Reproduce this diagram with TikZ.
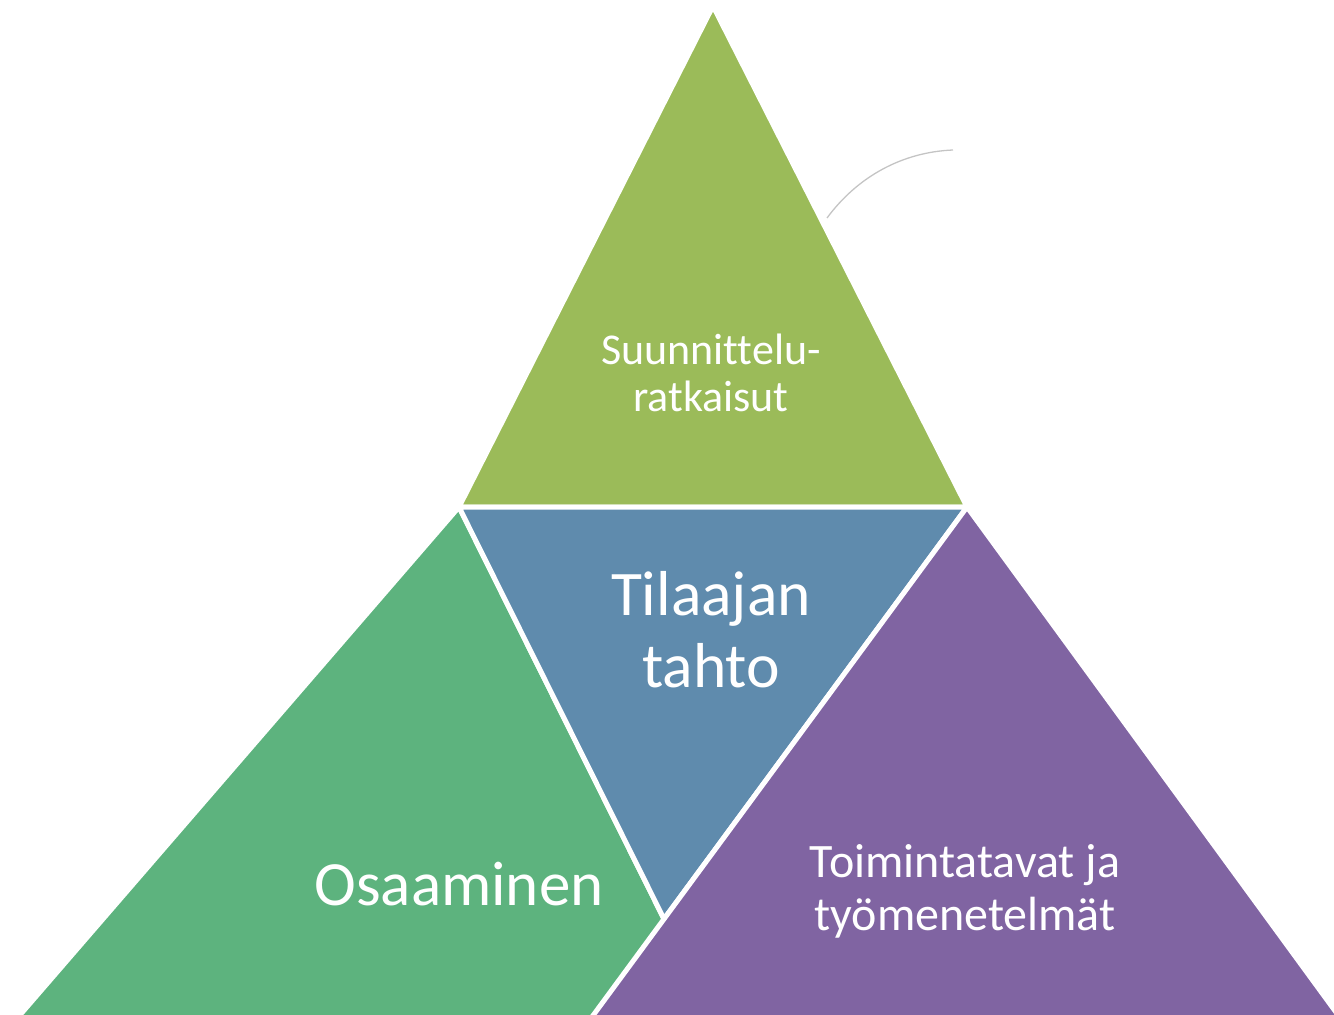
\documentclass[tikz,border=0pt]{standalone}
\usepackage{fontspec}
\setmainfont{Carlito}[Ligatures=NoCommon]
\usetikzlibrary{calc}
\definecolor{topgreen}{HTML}{9BBB59}
\definecolor{midblue}{HTML}{5F8BAD}
\definecolor{leftgreen}{HTML}{5DB37E}
\definecolor{rightpurple}{HTML}{8064A2}
\definecolor{arcgray}{HTML}{C4C4C4}
\tikzset{
  facet/.style={draw=white, line width=5pt, line join=miter},
  label/.style={text=white, inner sep=0pt, align=center, anchor=base},
}
\begin{document}
\begin{tikzpicture}[x=1pt,y=-1pt]
\useasboundingbox (0,0) rectangle (1334,1015);
\clip (0,0) rectangle (1334,1015);
% shared vertices
\coordinate (A) at (459,507);
\coordinate (B) at (967,507);
\coordinate (C) at (664,919);
\coordinate (T) at (713,6);
% left green (extends under purple)
\draw[facet, fill=leftgreen] (A) -- (7,1030) -- ($(A)!1.25!(C)$) -- cycle;
% top green
\draw[facet, fill=topgreen] (T) -- (A) -- (B) -- cycle;
% blue inverted
\draw[facet, fill=midblue] (A) -- (B) -- (C) -- cycle;
% purple
\draw[facet, fill=rightpurple] (B) -- ($(B)!1.3!(C)$) -- (1349,1030) -- cycle;
% grey arc
\draw[arcgray, line width=1.3pt] (827,218) .. controls (858,176) and (903,152) .. (953,150);
% labels (anchor = baseline of last line)
\node[label, font=\fontsize{44}{47}\selectfont] (t1) at (711,411) {Suunnittelu-\\ratkaisut};
\node[label, font=\fontsize{63.5}{72}\selectfont] (t2) at (711,687) {Tilaajan\\tahto};
\node[label, font=\fontsize{63}{70}\selectfont] (t3) at (459,905) {Osaaminen};
\node[label, font=\fontsize{48}{53}\selectfont] (t4) at (965,930) {Toimintatavat ja\\työmenetelmät};
\end{tikzpicture}
\end{document}
